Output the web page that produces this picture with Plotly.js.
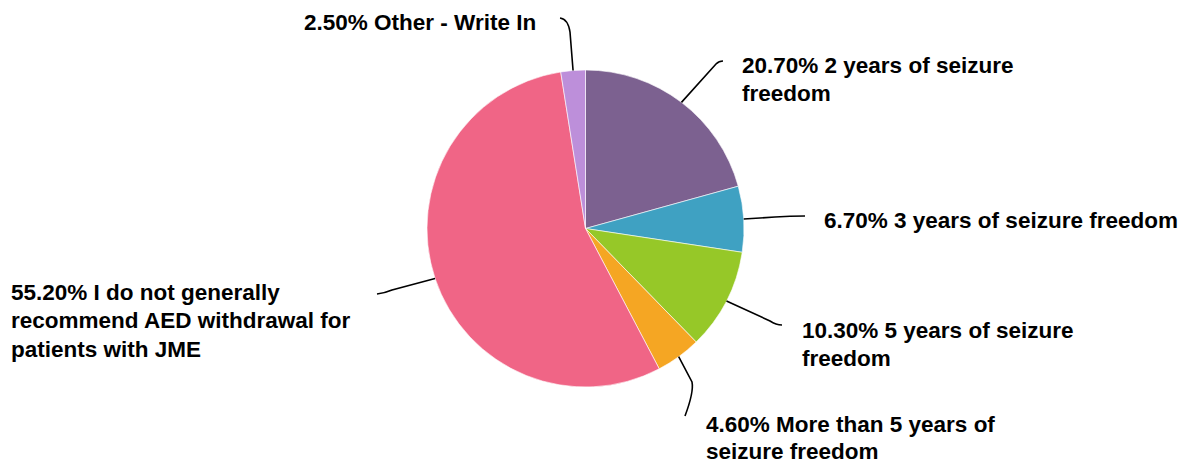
<!DOCTYPE html>
<html>
<head>
<meta charset="utf-8">
<script src="https://cdn.plot.ly/plotly-3.0.1.min.js"></script>
<style>html,body{margin:0;padding:0;background:#fff;}#chart{width:1182px;height:462px;}</style>
</head>
<body>
<div id="chart"></div>
<script>
// ---- data ----
const categories = [
  "2 years of seizure freedom",
  "3 years of seizure freedom",
  "5 years of seizure freedom",
  "More than 5 years of seizure freedom",
  "I do not generally recommend AED withdrawal for patients with JME",
  "Other - Write In"
];
const values = [20.7, 6.7, 10.3, 4.6, 55.2, 2.5];
const colors = ["#7C6190", "#3FA1C2", "#96C828", "#F5A623", "#F06586", "#BD8FDA"];
// label text split into display lines
const labelLines = [
  ["20.70% 2 years of seizure", "freedom"],
  ["6.70% 3 years of seizure freedom"],
  ["10.30% 5 years of seizure", "freedom"],
  ["4.60% More than 5 years of", "seizure freedom"],
  ["55.20% I do not generally", "recommend AED withdrawal for", "patients with JME"],
  ["2.50% Other - Write In"]
];

// ---- layout constants (pixels) ----
const W = 1182, H = 462;
const cx = 585.5, cy = 228.5, R = 158.5;
// label text anchor (left x, first-line centre y)
const labelPos = [[741, 65], [823, 221], [801, 330], [705, 424], [10, 292], [303, 22]];
const lineGap = [28, 28, 28, 27, 28.7, 28];
// leader line: elbow, control, end
const leaders = [
  [[716, 64], [719, 61], [723, 61]],
  [[775, 217], [790, 216], [805, 216]],
  [[770, 321], [776, 325], [782, 325]],
  [[692, 382], [694, 392], [685, 416]],
  [[392, 290], [385, 293], [377, 294]],
  [[570, 32], [568, 19], [560, 18]]
];

const px = x => x / W;
const py = y => 1 - y / H;

const total = values.reduce((a, b) => a + b, 0);
let cum = 0;
const shapes = [];
const annotations = [];
values.forEach((v, i) => {
  const mid = (cum + v / 2) / total * 2 * Math.PI;
  cum += v;
  const ex = cx + R * Math.sin(mid), ey = cy - R * Math.cos(mid);
  const [b, c, t] = leaders[i];
  const path = `M ${px(ex)} ${py(ey)} L ${px(b[0])} ${py(b[1])} Q ${px(c[0])} ${py(c[1])} ${px(t[0])} ${py(t[1])}`;
  shapes.push({type: 'path', xref: 'paper', yref: 'paper', path: path,
    line: {color: '#000', width: 1.6}});
  labelLines[i].forEach((txt, k) => {
    annotations.push({
      xref: 'paper', yref: 'paper', showarrow: false,
      x: px(labelPos[i][0]), y: py(labelPos[i][1] + k * lineGap[i]),
      xanchor: 'left', yanchor: 'middle', borderpad: 0,
      text: '<b>' + txt + '</b>',
      font: {family: 'Liberation Sans, Arial, sans-serif', size: 22.5, color: '#000'}
    });
  });
});

const trace = {
  type: 'pie',
  labels: categories,
  values: values,
  sort: false,
  direction: 'clockwise',
  rotation: 0,
  textinfo: 'none',
  hoverinfo: 'label+percent',
  marker: {colors: colors, line: {color: '#ffffff', width: 0.6}},
  domain: {x: [px(cx - R), px(cx + R)], y: [py(cy + R), py(cy - R)]},
  showlegend: false
};

Plotly.newPlot('chart', [trace], {
  width: W, height: H,
  margin: {l: 0, r: 0, t: 0, b: 0},
  paper_bgcolor: '#fff',
  showlegend: false,
  shapes: shapes,
  annotations: annotations
}, {displayModeBar: false, staticPlot: true});
</script>
</body>
</html>
